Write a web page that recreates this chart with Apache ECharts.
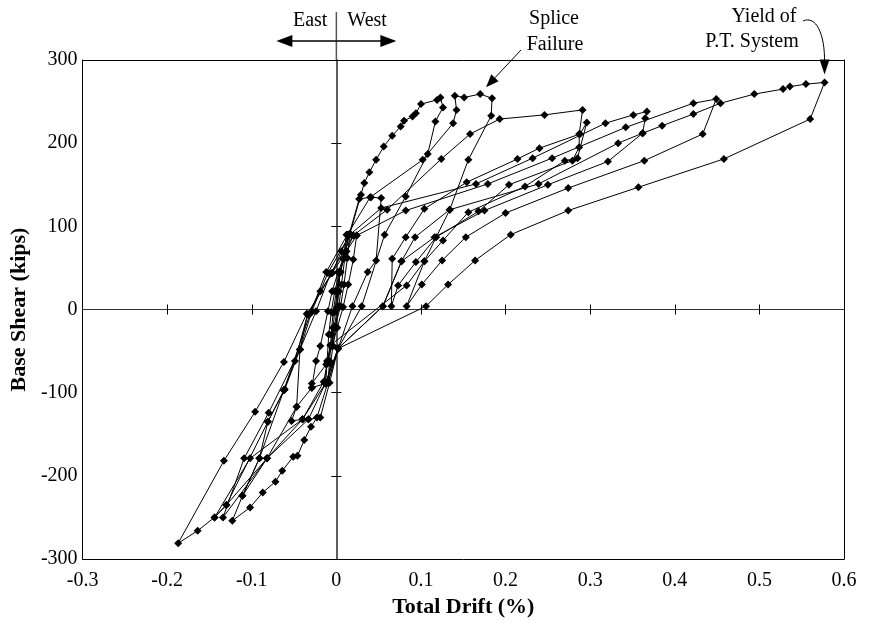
<!DOCTYPE html>
<html>
<head>
<meta charset="utf-8">
<script src="https://cdn.jsdelivr.net/npm/echarts/dist/echarts.min.js"></script>
<style>html,body{margin:0;padding:0;background:#fff;}#main{width:870px;height:628px;}</style>
</head>
<body>
<div id="main"></div>
<script>
// ---- Data: [total drift (%), base shear (kips)], in loading order ----
const smallCycles = [
  [0,0],[0.002,22],[0.004,44],[0.003,22],[0.001,3],[-0.002,-20],[-0.005,-43],[-0.004,-22],[-0.002,-3],
  [0.001,22],[0.004,45],[0.008,61],[0.012,90],[0.010,62],[0.006,30],[0.003,4],[-0.001,-22],[-0.004,-44],[-0.007,-65],[-0.010,-88],[-0.008,-62],[-0.006,-30],[-0.004,-4],
  [0.000,22],[0.005,45],[0.010,68],[0.016,91],[0.013,62],[0.009,30],[0.005,4],[-0.002,-22],[-0.007,-43],[-0.011,-65],[-0.013,-89],[-0.011,-62],[-0.009,-30],[-0.006,-3]
];
const cycle90 = [
  [-0.002,22],[0.004,45],[0.012,70],[0.020,89],[0.024,89],[0.020,60],[0.014,30],[0.008,3],
  [0.001,-22],[-0.005,-44],[-0.012,-66],[-0.029,-89],[-0.029,-94],[-0.024,-62],[-0.019,-44],[-0.010,-2]
];
const cycle135 = [
  [-0.005,22],[0.002,45],[0.008,61],[0.015,90],[0.027,133],[0.041,135],[0.053,134],[0.047,59],[0.037,45],[0.019,4],
  [0.002,-47],[-0.008,-88],[-0.019,-130],[-0.033,-132],[-0.040,-132],[-0.053,-134],[-0.047,-117],[-0.043,-48],[-0.034,-6]
];
const cycleEnvelope = [
  [-0.019,22],[-0.005,44],[0.006,70],[0.016,91],[0.029,138],[0.033,152],[0.039,165],[0.047,180],[0.056,196],[0.066,209],
  [0.076,220],[0.080,227],[0.090,232],[0.094,236],[0.100,247],[0.119,252],[0.123,255],
  [0.126,243],[0.117,226],[0.108,187],[0.082,136],[0.057,90],[0.030,4],
  [0.002,-47],[-0.010,-88],[-0.023,-130],[-0.030,-141],[-0.038,-157],[-0.046,-176],[-0.051,-177],[-0.064,-194],
  [-0.072,-207],[-0.087,-220],[-0.102,-238],[-0.123,-254],
  [-0.111,-224],[-0.091,-179],[-0.081,-135],[-0.062,-97],[-0.031,-5]
];
const cycleSplice = [
  [-0.012,45],[0.013,90],[0.040,135],[0.102,180],[0.138,224],[0.142,240],[0.140,257],[0.151,255],[0.170,259],[0.184,254],[0.183,233],
  [0.156,180],[0.134,120],[0.093,87],[0.077,58],[0.055,4],
  [0.002,-47],[-0.013,-89],[-0.033,-132],[-0.082,-179],[-0.134,-250],
  [-0.109,-179],[-0.080,-124],[-0.043,-48],[-0.024,-2]
];
const cycle291 = [
  [-0.007,43],[0.020,89],[0.060,120],[0.124,181],[0.158,211],[0.193,229],[0.246,234],[0.291,240],
  [0.287,211],[0.287,195],[0.279,179],[0.204,150],[0.168,118],[0.118,87],[0.094,57],[0.073,29],[0.065,4]
];
const cycle296 = [
  [0.066,61],[0.082,87],[0.104,121],[0.154,153],[0.214,181],[0.240,194],[0.288,211],[0.296,225],
  [0.285,182],[0.270,179],[0.223,148],[0.156,117],[0.126,83],[0.104,58],[0.083,29],
  [-0.007,-43],[-0.015,-87],[-0.040,-132],[-0.102,-179],[-0.144,-250],
  [-0.130,-235],[-0.081,-135],[-0.061,-96],[-0.043,-48],[-0.029,-2]
];
const cycle367 = [
  [-0.010,44],[0.016,90],[0.053,122],[0.165,151],[0.232,182],[0.318,224],[0.351,234],[0.367,238],
  [0.365,230],[0.362,212],[0.321,178],[0.250,150],[0.175,119],[0.116,87],[0.077,58],[0.055,4],
  [0.002,-47],[-0.010,-88],[-0.029,-94],[-0.047,-117],[-0.082,-179],[-0.111,-224],
  [-0.091,-179],[-0.062,-97],[-0.049,-62],[-0.034,-6]
];
const cycle449 = [
  [-0.005,44],[0.024,89],[0.082,119],[0.179,151],[0.255,182],[0.342,219],[0.422,248],[0.449,253],
  [0.433,211],[0.364,179],[0.274,146],[0.200,116],[0.153,87],[0.125,59],[0.101,30],[0.083,4]
];
const cycle577 = [
  [0.104,58],[0.134,120],[0.239,151],[0.333,200],[0.362,212],[0.385,221],[0.422,235],[0.454,248],[0.494,259],
  [0.528,265],[0.536,268],[0.555,271],[0.577,273],
  [0.560,229],[0.458,181],[0.357,147],[0.274,119],[0.206,90],[0.164,59],[0.132,30],[0.106,4],
  [0.002,-47],[-0.013,-89],[-0.040,-132],[-0.082,-179],[-0.130,-235],[-0.144,-250],[-0.164,-266],[-0.187,-281],
  [-0.133,-182],[-0.096,-123],[-0.062,-63],[-0.035,-5]
];

// axis ranges / tick steps
const xRange = [-0.3, 0.6], xStep = 0.1;
const yRange = [-300, 300], yStep = 100;

const path = [].concat(smallCycles, cycle90, cycle135, cycleEnvelope, cycleSplice,
                       cycle291, cycle296, cycle367, cycle449, cycle577);

const FONT = 'Liberation Serif';
const chart = echarts.init(document.getElementById('main'), null, {renderer: 'canvas'});

function xAx(extra) {
  return Object.assign({
    type: 'value', min: xRange[0], max: xRange[1], interval: xStep,
    splitLine: {show: false}, axisLabel: {show: false}, axisTick: {show: false}
  }, extra);
}
function yAx(extra) {
  return Object.assign({
    type: 'value', min: yRange[0], max: yRange[1], interval: yStep,
    splitLine: {show: false}, axisLabel: {show: false}, axisTick: {show: false}
  }, extra);
}

const option = {
  animation: false,
  backgroundColor: '#fff',
  grid: {left: 78, right: 26, top: 60, bottom: 69, containLabel: false},
  xAxis: [
    xAx({position: 'bottom', axisLine: {onZero: false, lineStyle: {color: '#000', width: 1}},
         axisLabel: {show: true, fontFamily: FONT, fontSize: 20, color: '#000', margin: 12},
         name: 'Total Drift (%)', nameLocation: 'middle', nameGap: 37,
         nameTextStyle: {fontFamily: FONT, fontSize: 22, fontWeight: 'bold', color: '#000'}}),
    xAx({position: 'top', axisLine: {onZero: false, lineStyle: {color: '#000', width: 1}}}),
    xAx({position: 'bottom', axisLine: {onZero: true, onZeroAxisIndex: 0, lineStyle: {color: '#333', width: 1}},
         axisTick: {show: true, inside: true, length: 5, lineStyle: {color: '#000'}}}),
    xAx({position: 'bottom', axisLine: {onZero: true, onZeroAxisIndex: 0, lineStyle: {color: '#333', width: 1}},
         axisTick: {show: true, inside: false, length: 5, lineStyle: {color: '#000'}}})
  ],
  yAxis: [
    yAx({position: 'left', axisLine: {onZero: false, lineStyle: {color: '#000', width: 1}},
         axisLabel: {show: true, fontFamily: FONT, fontSize: 20, color: '#000', margin: 5},
         name: 'Base Shear (kips)', nameLocation: 'middle', nameGap: 49, nameRotate: 90,
         nameTextStyle: {fontFamily: FONT, fontSize: 22, fontWeight: 'bold', color: '#000'}}),
    yAx({position: 'right', axisLine: {onZero: false, lineStyle: {color: '#000', width: 1}}}),
    yAx({position: 'left', axisLine: {onZero: true, onZeroAxisIndex: 0, lineStyle: {color: '#555', width: 1.5}},
         axisTick: {show: true, inside: true, length: 5, lineStyle: {color: '#000'}}}),
    yAx({position: 'left', axisLine: {onZero: true, onZeroAxisIndex: 0, lineStyle: {color: '#555', width: 1.5}},
         axisTick: {show: true, inside: false, length: 5, lineStyle: {color: '#000'}}})
  ],
  series: [{
    type: 'line', xAxisIndex: 0, yAxisIndex: 0, data: path,
    symbol: 'diamond', symbolSize: 8, showAllSymbol: true, silent: true, z: 5,
    itemStyle: {color: '#000'}, lineStyle: {color: '#000', width: 1}
  }]
};
chart.setOption(option);

// ---- annotations, anchored through the axes' own scales ----
const toPx = (v) => chart.convertToPixel({xAxisIndex: 0, yAxisIndex: 0}, v);
const top0 = toPx([0, yRange[1]]);
const x0 = top0[0], yTop = top0[1];
const splicePk = toPx([0.184, 254]);
const yieldPk = toPx([0.577, 273]);
const tf = (s, w) => (w || '') + ' ' + s + 'px "Liberation Serif"';

const tipS = [splicePk[0] - 6, splicePk[1] - 11];
const startS = [521, 50];
const ang = Math.atan2(tipS[1] - startS[1], tipS[0] - startS[0]);
const hl = 13, hw = 5;
const baseS = [tipS[0] - hl * Math.cos(ang), tipS[1] - hl * Math.sin(ang)];
const headS = [tipS,
  [baseS[0] + hw * Math.sin(ang), baseS[1] - hw * Math.cos(ang)],
  [baseS[0] - hw * Math.sin(ang), baseS[1] + hw * Math.cos(ang)]];

const tipY = [yieldPk[0], yieldPk[1] - 8];

chart.setOption({
  graphic: [
    {type: 'line', shape: {x1: x0, y1: 12, x2: x0, y2: yTop}, style: {stroke: '#555', lineWidth: 1.5}},
    {type: 'text', style: {text: 'East', x: x0 - 9, y: 21, align: 'right', verticalAlign: 'middle', font: tf(20), fill: '#000'}},
    {type: 'text', style: {text: 'West', x: x0 + 11, y: 21, align: 'left', verticalAlign: 'middle', font: tf(20), fill: '#000'}},
    {type: 'line', shape: {x1: x0, y1: 41, x2: x0 - 46, y2: 41}, style: {stroke: '#000', lineWidth: 1.5}},
    {type: 'polygon', shape: {points: [[x0 - 60, 41], [x0 - 44, 35], [x0 - 44, 47]]}, style: {fill: '#000'}},
    {type: 'line', shape: {x1: x0, y1: 41, x2: x0 + 46, y2: 41}, style: {stroke: '#000', lineWidth: 1.5}},
    {type: 'polygon', shape: {points: [[x0 + 60, 41], [x0 + 44, 35], [x0 + 44, 47]]}, style: {fill: '#000'}},

    {type: 'text', style: {text: 'Splice', x: 554, y: 19, align: 'center', verticalAlign: 'middle', font: tf(20), fill: '#000'}},
    {type: 'text', style: {text: 'Failure', x: 555, y: 45, align: 'center', verticalAlign: 'middle', font: tf(20), fill: '#000'}},
    {type: 'line', shape: {x1: startS[0], y1: startS[1], x2: baseS[0], y2: baseS[1]}, style: {stroke: '#000', lineWidth: 1}},
    {type: 'polygon', shape: {points: headS}, style: {fill: '#000'}},

    {type: 'text', style: {text: 'Yield of', x: 764, y: 17, align: 'center', verticalAlign: 'middle', font: tf(20), fill: '#000'}},
    {type: 'text', style: {text: 'P.T. System', x: 752, y: 42, align: 'center', verticalAlign: 'middle', font: tf(20), fill: '#000'}},
    {type: 'bezierCurve', shape: {x1: 803, y1: 21, cpx1: 816, cpy1: 15, cpx2: 825, cpy2: 34, x2: tipY[0], y2: tipY[1] - 12},
     style: {stroke: '#000', lineWidth: 1, fill: null}},
    {type: 'polygon', shape: {points: [[tipY[0], tipY[1]], [tipY[0] - 5, tipY[1] - 15], [tipY[0] + 5, tipY[1] - 15]]}, style: {fill: '#000'}}
  ]
});
</script>
</body>
</html>
